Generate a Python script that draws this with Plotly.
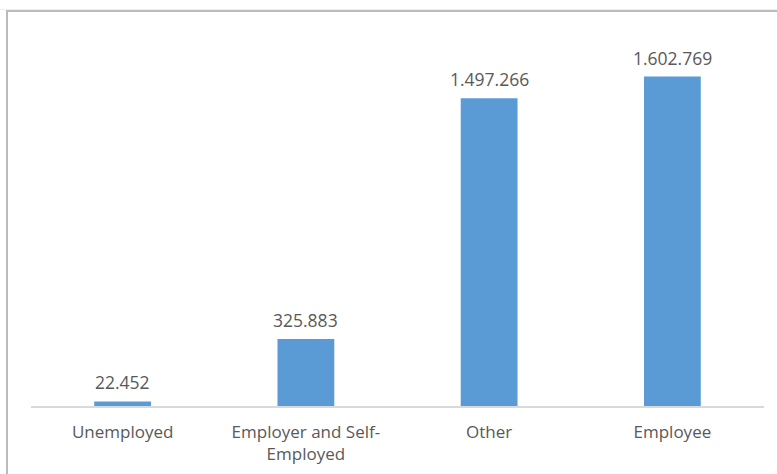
import plotly.graph_objects as go

# Number of people by employment status
categories = ["Unemployed", "Employer and Self-<br>Employed", "Other", "Employee"]
values = [22452, 325883, 1497266, 1602769]

BAR_COLOR = "#5B9BD5"
TEXT_COLOR = "#595959"
FONT = "Open Sans"

W, H = 777, 474
ML, MR, MT, MB = 31, 13, 36, 68
PW, PH = W - ML - MR, H - MT - MB


def px_x(px):
    return (px - ML) / PW


def px_y(py):
    return (H - MB - py) / PH


def dotted(v):
    return f"{v:,}".replace(",", ".")


fig = go.Figure(
    go.Bar(
        x=categories,
        y=values,
        marker=dict(color=BAR_COLOR, line=dict(width=0)),
        width=0.31,
        hoverinfo="skip",
    )
)

# Value labels above each bar
for cat, val in zip(categories, values):
    fig.add_annotation(
        x=cat, y=val, xref="x", yref="y",
        text=dotted(val),
        showarrow=False,
        yanchor="bottom",
        yshift=5,
        font=dict(family=FONT, size=17.5, color=TEXT_COLOR),
    )

# Chart frame: a box whose right and bottom edges run off the page,
# with a faint line just above its top edge
frame_shapes = [
    dict(type="line", xref="paper", yref="paper", layer="above",
         x0=px_x(-20), x1=px_x(W + 60), y0=px_y(9.5), y1=px_y(9.5),
         line=dict(color="#C8C8C8", width=1)),
    dict(type="rect", xref="paper", yref="paper", layer="above",
         x0=px_x(7), x1=px_x(W + 60), y0=px_y(11), y1=px_y(H + 60),
         line=dict(color="#222222", width=2), fillcolor="rgba(0,0,0,0)"),
    # keep the far right column clean
    dict(type="rect", xref="paper", yref="paper", layer="above",
         x0=px_x(W - 1), x1=px_x(W + 20), y0=px_y(12.5), y1=px_y(H + 20),
         line=dict(width=0), fillcolor="white"),
]

fig.update_layout(
    template="simple_white",
    width=W,
    height=H,
    margin=dict(l=ML, r=MR, t=MT, b=MB, pad=0, autoexpand=False),
    paper_bgcolor="white",
    plot_bgcolor="white",
    showlegend=False,
    shapes=frame_shapes,
    xaxis=dict(
        automargin=False,
        showline=True,
        linecolor="#D9D9D9",
        linewidth=1.5,
        showgrid=False,
        ticks="",
        ticklabelstandoff=10,
        tickfont=dict(family=FONT, size=17, color=TEXT_COLOR),
        fixedrange=True,
    ),
    yaxis=dict(
        automargin=False,
        range=[0, 1800000],
        visible=False,
        fixedrange=True,
    ),
)

fig.write_html("out.html")
